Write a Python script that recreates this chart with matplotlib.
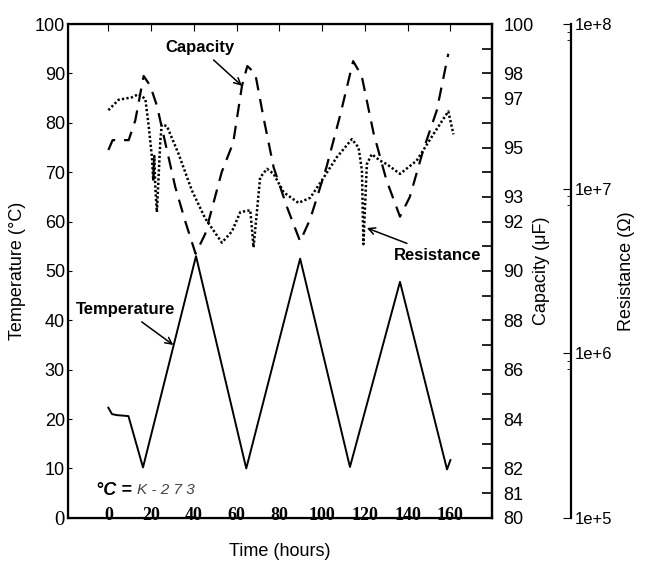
import numpy as np
import matplotlib.pyplot as plt
from matplotlib.ticker import FuncFormatter, FixedLocator, LogLocator, NullFormatter

plt.rcParams['font.family'] = ['Liberation Sans', 'DejaVu Sans']

# temperature (deg C) vs time (hours)
temp_hours = [0, 1.7, 4, 9.4, 16.2, 41, 64.5, 89.7, 113, 136.4, 158.4, 160]
temp_c = [22.3, 21.0, 20.8, 20.6, 10.2, 53.0, 10.0, 52.5, 10.3, 47.8, 9.8, 11.7]

# capacity (uF)
cap_hours = [0, 2, 9.5, 12.6, 16.5, 19.6, 22.7, 31.3, 36, 40.8, 45.3, 53, 58.4,
             62.5, 65, 68.7, 72.6, 77.3, 83.5, 89.7, 94.4, 102, 108.4, 114.5,
             118.5, 124, 130, 136.4, 141, 147.3, 153.6, 159]
cap_uf = [94.9, 95.3, 95.3, 96.1, 97.9, 97.5, 96.7, 93.4, 92.0, 90.7, 91.5, 94.0, 95.2,
          97.5, 98.3, 98.0, 96.2, 94.2, 92.6, 91.2, 92.1, 94.2, 96.3, 98.5,
          97.9, 95.6, 93.7, 92.2, 93.0, 94.9, 96.5, 98.8]

# resistance (ohm)
res_hours = [0, 4.8, 11, 14.2, 17.3, 18.8, 20.4, 21, 21.5, 22, 22.7, 24.3, 25, 27.4,
             32.9, 39, 45.3, 53.1, 57.8, 61.7, 66.4, 67.9, 71, 74.2, 77.3, 82,
             88.9, 94.4, 99.8, 106.8, 113.9, 117, 118.6, 119.3, 120.9, 123.2,
             127.1, 130.2, 136.4, 144.2, 152, 159, 161.4]
res_ohm = [3.0e7, 3.47e7, 3.59e7, 3.76e7, 3.51e7, 2.45e7, 1.55e7, 1.12e7, 1.58e7, 1.0e7,
           7.2e6, 1.95e7, 2.45e7, 2.4e7, 1.62e7, 9.8e6, 6.6e6, 4.7e6, 5.5e6, 7.2e6,
           7.4e6, 4.4e6, 1.17e7, 1.32e7, 1.23e7, 9.5e6, 8.2e6, 8.8e6, 1.12e7,
           1.55e7, 2.0e7, 1.78e7, 1.29e7, 4.6e6, 1.41e7, 1.62e7, 1.48e7, 1.41e7,
           1.23e7, 1.48e7, 2.14e7, 2.95e7, 2.14e7]

x_ticks = [0, 20, 40, 60, 80, 100, 120, 140, 160]
temp_ticks = [0, 10, 20, 30, 40, 50, 60, 70, 80, 90, 100]
cap_labels = [80, 81, 82, 84, 86, 88, 90, 92, 93, 95, 97, 98, 100]
res_ticks = [1e5, 1e6, 1e7, 1e8]

fig = plt.figure(figsize=(6.45, 5.61), dpi=100)
ax = fig.add_axes([0.105, 0.077, 0.658, 0.880])
ax2 = ax.twinx()
ax3 = ax.twinx()

ax.plot(temp_hours, temp_c, color='black', lw=1.4)
ax2.plot(cap_hours, cap_uf, color='black', lw=1.6, linestyle=(0, (6, 4)))
ax3.plot(res_hours, res_ohm, color='black', lw=1.8, linestyle=(0, (0.9, 0.9)),
         dash_capstyle='butt')

ax.set_xlim(-19, 179.5)
ax.set_ylim(0, 100)
ax2.set_ylim(80, 100)
ax3.set_yscale('log')
ax3.set_ylim(1e5, 1e8)

for s in ax.spines.values():
    s.set_linewidth(1.6)
ax2.spines['right'].set_linewidth(1.6)

# x axis
ax.set_xticks(x_ticks)
ax.set_xticklabels([str(v) for v in x_ticks], fontfamily='Liberation Serif',
                   fontweight='bold', fontsize=13)
ax.tick_params(axis='x', bottom=False, top=True, direction='in', length=5, pad=-8)
ax.set_xlabel('Time (hours)', fontsize=13, labelpad=14)

# temperature axis
ax.set_yticks(temp_ticks)
ax.set_yticklabels([str(v) for v in temp_ticks], fontsize=13)
ax.get_yticklabels()[0].set_fontfamily('Liberation Serif')
ax.get_yticklabels()[0].set_fontsize(15)
ax.tick_params(axis='y', direction='in', length=3, pad=2)
ax.set_ylabel('Temperature (°C)', fontsize=13, labelpad=6)

# capacity axis
ax2.yaxis.set_major_locator(FixedLocator(list(range(80, 101))))
ax2.yaxis.set_major_formatter(FuncFormatter(
    lambda v, p: str(int(round(v))) if int(round(v)) in cap_labels else ''))
ax2.tick_params(axis='y', direction='in', length=7, width=1.2, pad=8, labelsize=13)
ax2.set_ylabel('Capacity (μF)', fontsize=13, labelpad=0)

# resistance axis
ax3.spines['right'].set_position(('axes', 1.186))
ax3.spines['right'].set_linewidth(1.6)
for side in ['top', 'bottom', 'left']:
    ax3.spines[side].set_visible(False)
ax3.yaxis.set_major_locator(FixedLocator(res_ticks))
ax3.yaxis.set_major_formatter(FuncFormatter(
    lambda v, p: '1e+%d' % int(round(np.log10(v)))))
ax3.yaxis.set_minor_locator(LogLocator(base=10, subs=(8, 9)))
ax3.yaxis.set_minor_formatter(NullFormatter())
ax3.tick_params(axis='y', which='major', direction='in', length=6, pad=3, labelsize=12)
ax3.tick_params(axis='y', which='minor', direction='in', length=3)
ax3.set_ylabel('Resistance (Ω)', fontsize=13, labelpad=4)

# annotations (temperature coordinates)
ax.annotate('Capacity', xy=(62.5, 87.5), xytext=(43, 95.2), fontsize=12,
            fontweight='bold', ha='center', va='center',
            arrowprops=dict(arrowstyle='->', color='black', lw=1.1,
                            shrinkA=2, shrinkB=0))
ax.annotate('Temperature', xy=(30.4, 35), xytext=(8, 42.1), fontsize=12,
            fontweight='bold', ha='center', va='center',
            arrowprops=dict(arrowstyle='->', color='black', lw=1.1,
                            shrinkA=2, shrinkB=0))
ax.annotate('Resistance', xy=(120.9, 58.7), xytext=(154, 53.2), fontsize=12,
            fontweight='bold', ha='center', va='center', annotation_clip=False,
            arrowprops=dict(arrowstyle='->', color='black', lw=1.1,
                            shrinkA=3, shrinkB=0))
ax.text(-6, 5.6, '°C =', fontsize=13, fontweight='bold', fontstyle='italic',
        ha='left', va='center')
ax.text(13.5, 5.6, 'K - 2 7 3', fontsize=11, fontstyle='italic', color='#444444',
        ha='left', va='center')

fig.savefig('out.png', dpi=100)
